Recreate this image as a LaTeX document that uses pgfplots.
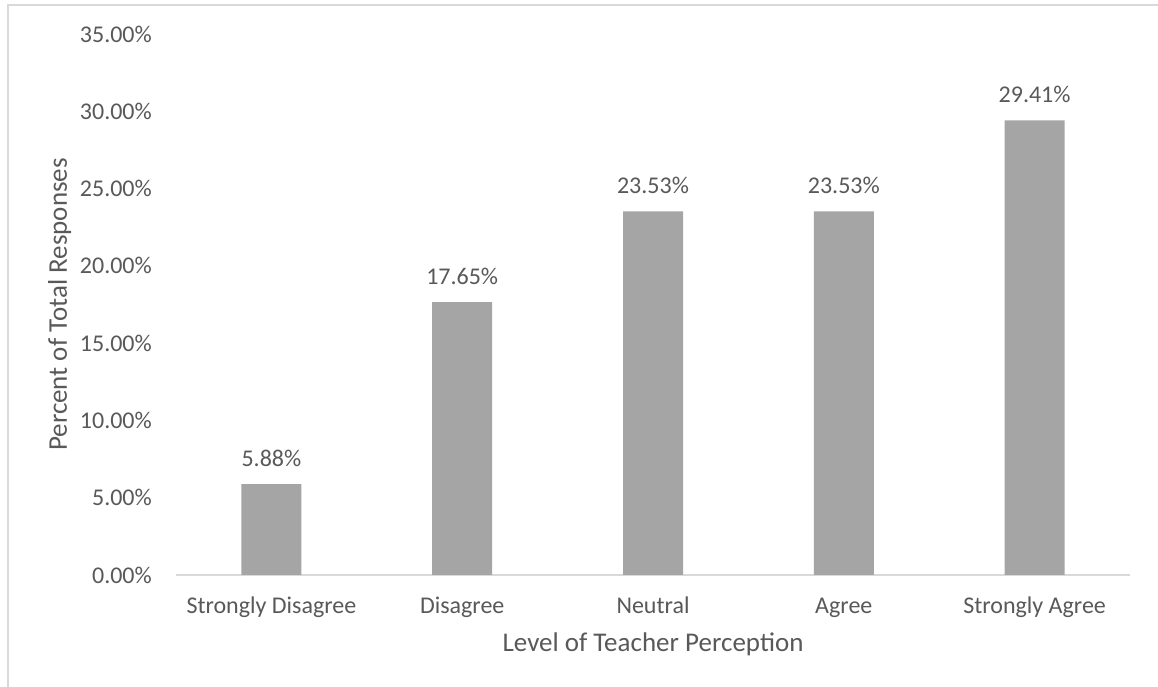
\documentclass[border=0pt]{standalone}
\usepackage{pgfplots}
\pgfplotsset{compat=1.18}
\usepackage{fontspec}
\setmainfont{Carlito}
\definecolor{txt}{HTML}{595959}
\definecolor{barc}{HTML}{A5A5A5}
\definecolor{axc}{HTML}{D9D9D9}
\begin{document}
\begin{tikzpicture}
\useasboundingbox (-176pt,-112pt) rectangle (982pt,575pt);
\fill[white] (-176pt,-112pt) rectangle (982pt,575pt);
\draw[axc, line width=1.5pt] (-168pt,-112pt) -- (-168pt,570pt) -- (982pt,570pt);
\begin{axis}[
  at={(0pt,0pt)}, anchor=south west,
  scale only axis, width=954pt, height=541pt,
  xmin=-0.5, xmax=4.5, ymin=0, ymax=35,
  axis x line=bottom, axis y line=left,
  axis line style={-},
  x axis line style={axc, line width=1.5pt},
  y axis line style={draw=none},
  major tick length=0pt,
  xtick={0,1,2,3,4},
  xticklabels={Strongly Disagree,Disagree,Neutral,Agree,Strongly Agree},
  ytick={0,5,10,15,20,25,30,35},
  yticklabels={0.00\%,5.00\%,10.00\%,15.00\%,20.00\%,25.00\%,30.00\%,35.00\%},
  ticklabel style={font=\fontsize{24}{27}\selectfont, text=txt, inner sep=0pt},
  yticklabel style={anchor=east, xshift=-24pt},
  xticklabel style={anchor=base, yshift=-39pt},
  xlabel={Level of Teacher Perception},
  ylabel={Percent of Total Responses},
  label style={font=\fontsize{27}{30}\selectfont, text=txt, inner sep=0pt},
  xlabel style={at={(axis description cs:0.5,0)}, anchor=base, yshift=-76pt},
  ylabel style={at={(axis description cs:-0.1143,0.5)}, anchor=base, rotate=0},
  ybar, bar width=60pt,
  nodes near coords={\pgfmathprintnumber[fixed,fixed zerofill,precision=2]{\pgfplotspointmeta}\%},
  nodes near coords style={font=\fontsize{24}{27}\selectfont, text=txt, anchor=base, inner sep=0pt, yshift=18pt},
  /pgf/number format/assume math mode=true,
  clip=false,
]
\addplot[fill=barc, draw=none] coordinates {(0,5.88) (1,17.65) (2,23.53) (3,23.53) (4,29.41)};
\end{axis}
\end{tikzpicture}
\end{document}
